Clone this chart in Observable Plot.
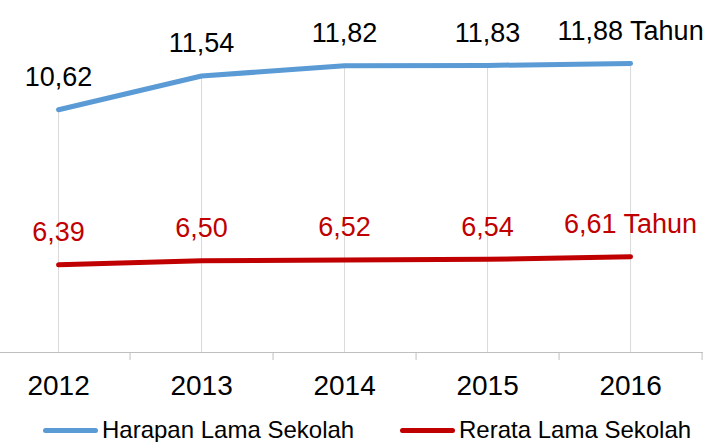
<!DOCTYPE html>
<html>
<head>
<meta charset="utf-8">
<script src="https://cdn.jsdelivr.net/npm/d3@7"></script>
<script src="https://cdn.jsdelivr.net/npm/@observablehq/plot@0.6"></script>
<style>
  html, body { margin: 0; padding: 0; background: #fff; }
  #wrap { position: relative; width: 710px; height: 442px; overflow: hidden; font-family: "Liberation Sans", Arial, sans-serif; }
  #legend { position: absolute; top: 418px; left: 0; width: 710px; height: 24px; }
  .item { position: absolute; top: 0; display: flex; align-items: center; height: 24px; line-height: 24px; font-size: 24px; color: #000; white-space: nowrap; }
  .sw { width: 55px; height: 5px; border-radius: 2.5px; margin-right: 4px; }
</style>
</head>
<body>
<div id="wrap"><div id="chart"></div><div id="legend"></div></div>
<script>
const years = [2012, 2013, 2014, 2015, 2016];
const harapan = [10.62, 11.54, 11.82, 11.83, 11.88];
const rerata = [6.39, 6.50, 6.52, 6.54, 6.61];
const seriesNames = ["Harapan Lama Sekolah", "Rerata Lama Sekolah"];
const seriesColors = ["#5B9BD5", "#C00000"];
const labelColors = ["#000000", "#C00000"];
const unit = "Tahun";
const boundaries = [2012.5, 2013.5, 2014.5, 2015.5, 2016.5];

const fmt = (v, i) => v.toFixed(2).replace(".", ",") + (i === years.length - 1 ? " " + unit : "");
const hData = years.map((y, i) => ({year: y, value: harapan[i], label: fmt(harapan[i], i)}));
const rData = years.map((y, i) => ({year: y, value: rerata[i], label: fmt(rerata[i], i)}));

const chart = Plot.plot({
  width: 710,
  height: 410,
  marginLeft: 0,
  marginRight: 7,
  marginTop: 0,
  marginBottom: 58,
  style: {fontFamily: "'Liberation Sans', Arial, sans-serif", fontSize: "27px", background: "#fff", overflow: "visible"},
  x: {type: "linear", domain: [2011.594, 2016.51], label: null},
  y: {domain: [4, 13.6], axis: null},
  marks: [
    Plot.ruleX(hData, {x: "year", y1: 4, y2: "value", stroke: "#d9d9d9", strokeWidth: 1}),
    Plot.ruleY([4], {stroke: "#bfbfbf", strokeWidth: 1}),
    Plot.axisX(boundaries, {tickSize: 8, tickFormat: () => "", stroke: "#bfbfbf", label: null}),
    Plot.axisX(years, {tickSize: 0, tickPadding: 23, tickFormat: d => String(d), fontSize: 28, fill: "#000", label: null}),
    Plot.line(hData, {x: "year", y: "value", stroke: seriesColors[0], strokeWidth: 5, strokeLinecap: "round", strokeLinejoin: "round"}),
    Plot.line(rData, {x: "year", y: "value", stroke: seriesColors[1], strokeWidth: 5, strokeLinecap: "round", strokeLinejoin: "round"}),
    Plot.text(hData, {x: "year", y: "value", text: "label", dy: -32.5, lineAnchor: "middle", fill: labelColors[0], fontSize: 27}),
    Plot.text(rData, {x: "year", y: "value", text: "label", dy: -32.5, lineAnchor: "middle", fill: labelColors[1], fontSize: 27})
  ]
});
document.getElementById("chart").appendChild(chart);

const legend = document.getElementById("legend");
const lefts = [43, 400];
seriesNames.forEach((name, i) => {
  const item = document.createElement("div");
  item.className = "item";
  item.style.left = lefts[i] + "px";
  const sw = document.createElement("span");
  sw.className = "sw";
  sw.style.background = seriesColors[i];
  const t = document.createElement("span");
  t.textContent = name;
  item.appendChild(sw);
  item.appendChild(t);
  legend.appendChild(item);
});
</script>
</body>
</html>
